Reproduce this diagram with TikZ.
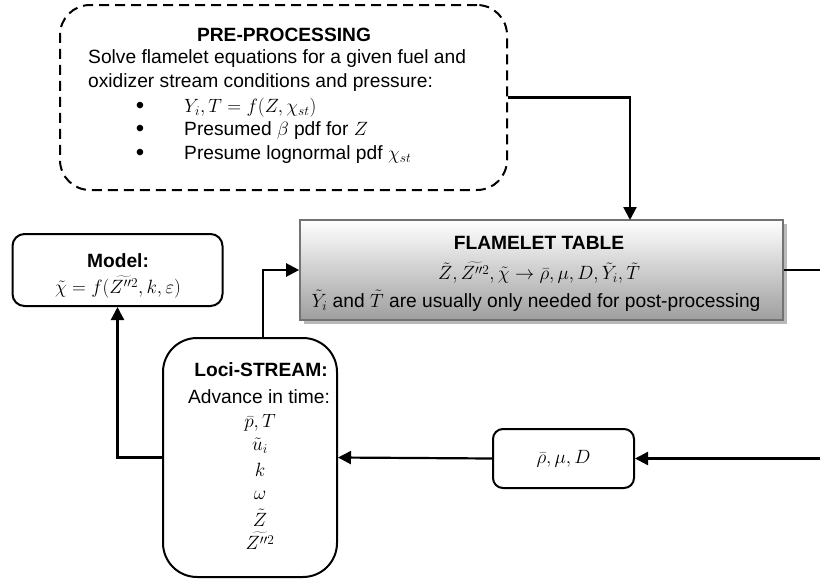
\RequirePackage{fix-cm}
\documentclass[tikz,border=0pt]{standalone}
\usepackage{fontspec}
\setmainfont{Liberation Sans}
\usetikzlibrary{arrows.meta,calc,shadows}
\begin{document}
\begin{tikzpicture}[x=1pt,y=-1pt,
  every node/.style={inner sep=0pt,font=\fontsize{19.2}{22}\selectfont},
  bold/.style={font=\fontsize{19.2}{22}\selectfont\bfseries},
  bul/.style={font=\fontsize{24}{22}\selectfont},
  boxline/.style={draw=black,line width=2pt},
  conn/.style={line width=2.2pt,draw=black},
  arr/.style={conn,-{Triangle[length=13pt,width=13pt]}},
  txt/.style={anchor=center}
]
\useasboundingbox (0,0) rectangle (820,582);
% boxes
\node[boxline,dashed,dash pattern=on 10pt off 6pt,rounded corners=30pt,minimum width=447pt,minimum height=185pt] (pre) at (283.5,97.5) {};
\fill[gray!55] (304,224) rectangle (787,324);
\node[draw=black!55,line width=1.6pt,top color=white,bottom color=black!38,minimum width=483pt,minimum height=100pt] (table) at (541.5,270) {};
\node[boxline,rounded corners=12pt,minimum width=210pt,minimum height=72pt] (model) at (117.5,270) {};
\node[boxline,rounded corners=34pt,minimum width=174pt,minimum height=239pt] (loci) at (250,457.5) {};
\node[boxline,rounded corners=10pt,minimum width=141pt,minimum height=59pt] (rho) at (563.5,458.5) {$\bar\rho,\mu,D$};
% pre-processing text
\node[txt,bold] (pret) at (284,35) {PRE-PROCESSING};
\node[anchor=west] (pre1) at (88,59) {Solve flamelet equations for a given fuel and};
\node[anchor=west] (pre2) at (88,83) {oxidizer stream conditions and pressure:};
\node[txt,bul] (b1) at (140,108) {•};
\node[txt,bul] (b2) at (140,131) {•};
\node[txt,bul] (b3) at (140,155) {•};
\node[anchor=west] (p1) at (184,108) {$Y_i,T=f(Z,\chi_{st})$};
\node[anchor=west] (p2) at (184,131) {Presumed $\beta$ pdf for $Z$};
\node[anchor=west] (p3) at (184,155) {Presume lognormal pdf $\chi_{st}$};
% table text
\node[txt,bold] (tt) at (539,243) {FLAMELET TABLE};
\node[txt] (t1) at (539,273) {$\tilde Z,\widetilde{Z''^2},\tilde\chi\rightarrow\bar\rho,\mu,D,\tilde Y_i,\tilde T$};
\node[txt] (t2) at (536,301) {$\tilde Y_i$ and $\tilde T$ are usually only needed for post-processing};
% model text
\node[txt,bold] (mt) at (118,261) {Model:};
\node[txt] (m1) at (118,287) {$\tilde\chi=f(\widetilde{Z''^2},k,\varepsilon)$};
% loci text
\node[txt,bold] (lt) at (261,370) {Loci-STREAM:};
\node[txt] (l1) at (259,397) {Advance in time:};
\node[txt] (l2) at (260,423) {$\bar p,T$};
\node[txt] (l3) at (260,446) {$\tilde u_i$};
\node[txt] (l4) at (260,470) {$k$};
\node[txt] (l5) at (260,495) {$\omega$};
\node[txt] (l6) at (260,518) {$\tilde Z$};
\node[txt] (l7) at (260,541) {$\widetilde{Z''^2}$};
% connectors
\coordinate (tin) at (630,220);
\coordinate (ltop) at (263,338);
\coordinate (rt) at (820,270);
\coordinate (rr) at (820,458.5);
\draw[arr] (pre.east) -| (tin);
\draw[arr] (ltop) |- (table.west);
\draw[arr] (loci.west) -| (model.south);
\draw[arr] (rho.west) -- (loci.east);
\draw[conn] (table.east) -- (rt);
\draw[arr] (rr) -- (rho.east);
\end{tikzpicture}
\end{document}
